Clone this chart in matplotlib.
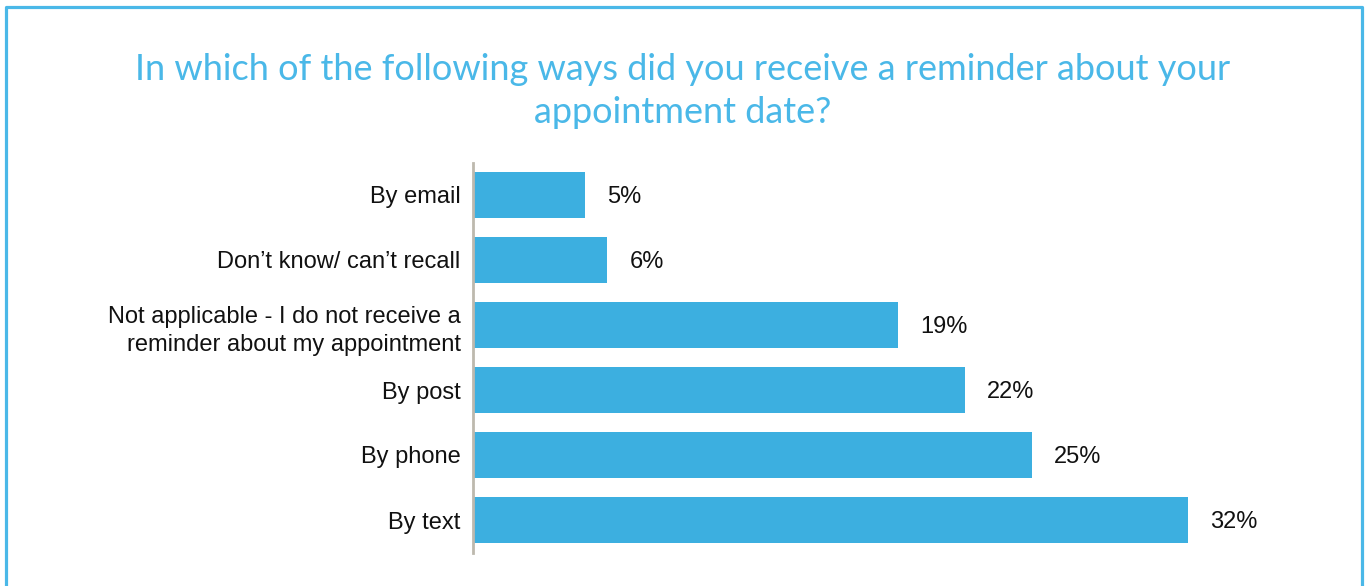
import matplotlib
matplotlib.use("Agg")
import matplotlib.pyplot as plt
from matplotlib import font_manager
from matplotlib.lines import Line2D

# survey answers, top to bottom as shown
categories = [
    "By email",
    "Don\u2019t know/ can\u2019t recall",
    "Not applicable - I do not receive a\nreminder about my appointment",
    "By post",
    "By phone",
    "By text",
]
values = [5, 6, 19, 22, 25, 32]
value_labels = ["5%", "6%", "19%", "22%", "25%", "32%"]

title = ("In which of the following ways did you receive a reminder about your\n"
         "appointment date?")

bar_color = "#3CAFE0"
accent = "#4AB8E8"

# pick the regular-width Liberation Sans file (not the Narrow one)
label_font = font_manager.FontProperties(family="Liberation Sans")
for f in font_manager.fontManager.ttflist:
    if f.fname.endswith("LiberationSans-Regular.ttf"):
        label_font = font_manager.FontProperties(fname=f.fname)
        break
label_font.set_size(17)

W, H = 1366, 586
fig = plt.figure(figsize=(W / 100, H / 100), dpi=100)

# axes placed in pixel terms
left, right = 473, 1340
top, bottom = 162.5, 552.5
ax = fig.add_axes([left / W, 1 - bottom / H, (right - left) / W, (bottom - top) / H])

y = list(range(len(categories)))
ax.barh(y, values, height=0.72, color=bar_color, zorder=2)
ax.set_ylim(len(categories) - 0.5, -0.5)
ax.set_xlim(0, (right - left) / 22.35)

for yi, v, lab in zip(y, values, value_labels):
    ax.text(v + 1.0, yi + 0.03, lab, va="center", ha="left",
            fontproperties=label_font, color="#111111")

ax.set_yticks(y)
ax.set_yticklabels(categories, fontproperties=label_font,
                   color="#111111", linespacing=1.36)
ax.tick_params(axis="y", length=0, pad=9)
ax.set_xticks([])
for s in ["top", "right", "bottom"]:
    ax.spines[s].set_visible(False)
ax.spines["left"].set_color("#BDB9AE")
ax.spines["left"].set_linewidth(2)

fig.text(683 / W, 1 - 91 / H, title, ha="center", va="center", fontsize=26,
         family="Lato", color=accent, linespacing=1.4)

# frame around the panel (bottom edge runs off the image)
bx0, bx1, by0 = 5.5 / W, 1361.5 / W, 1 - 6.5 / H
fig.add_artist(Line2D([bx0, bx0, bx1, bx1], [-0.1, by0, by0, -0.1],
                      transform=fig.transFigure, color=accent, linewidth=2.3))

fig.savefig("out.png", dpi=100)
